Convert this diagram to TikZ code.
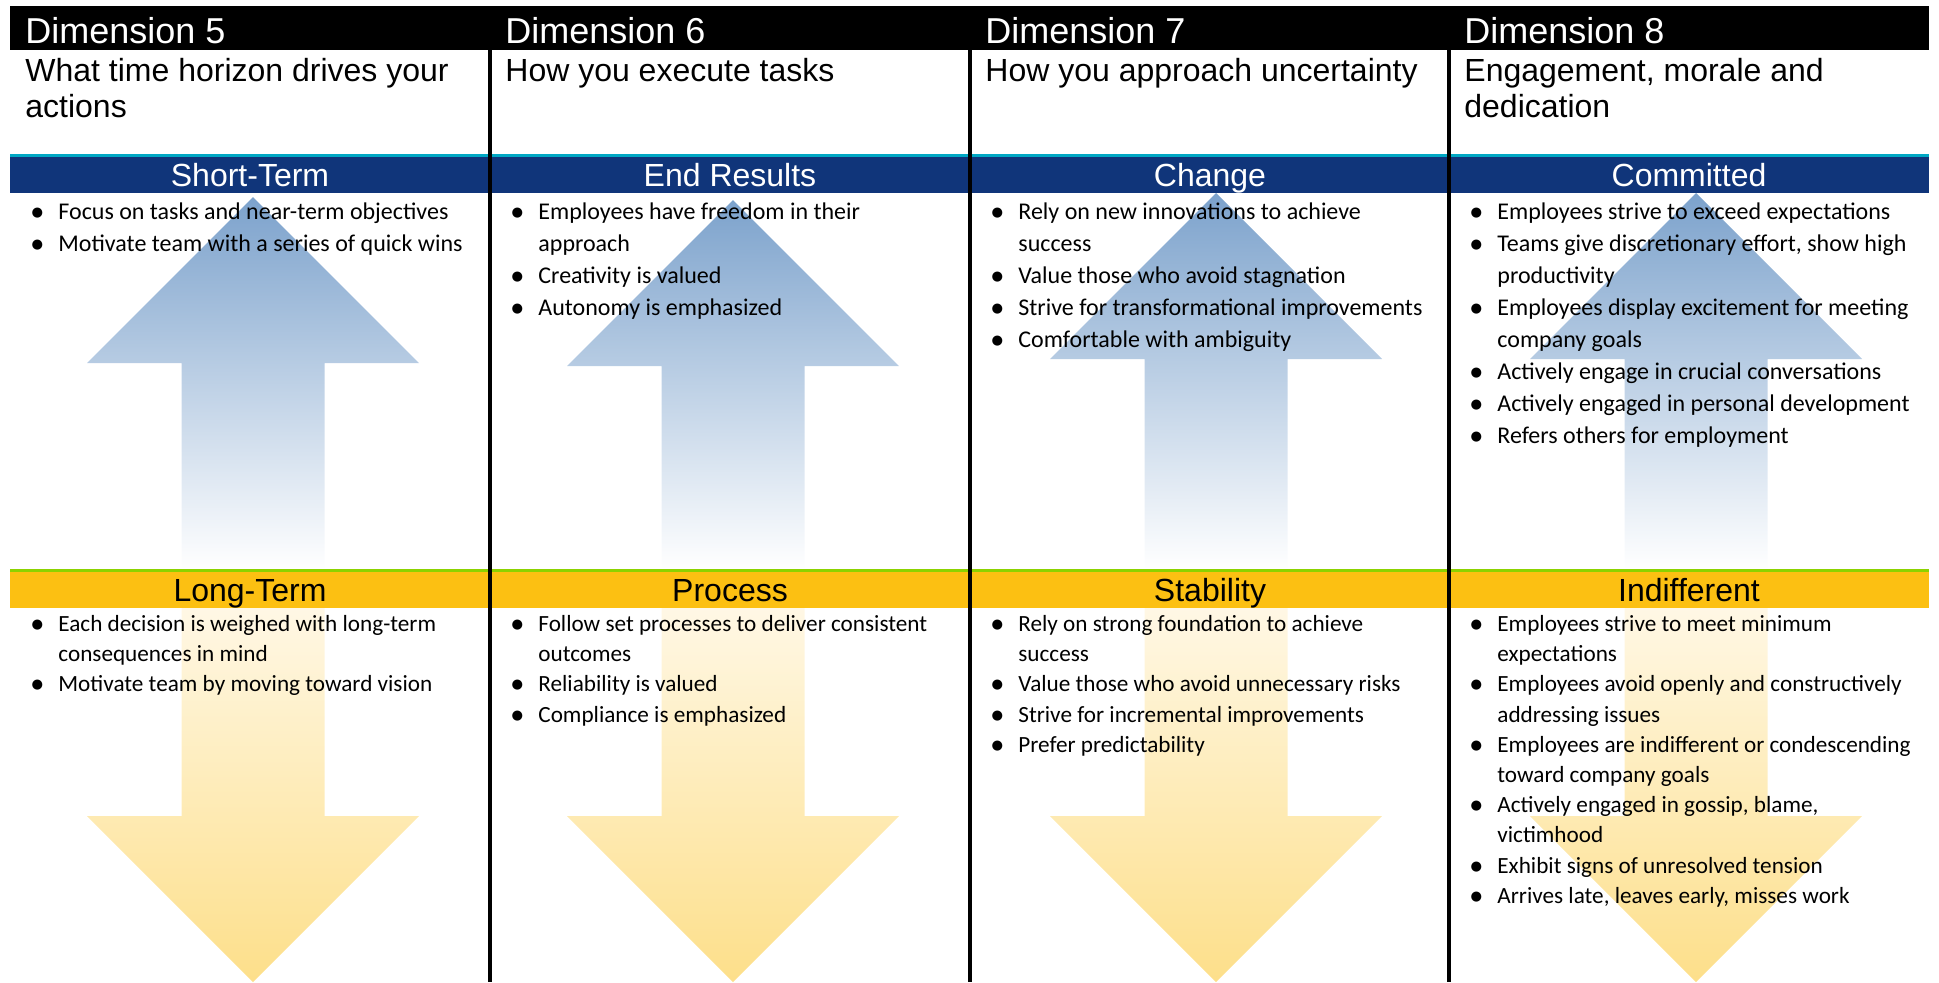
\documentclass[tikz,border=0pt]{standalone}
\usepackage{fontspec}
\setmainfont{Carlito}
\newfontfamily\headfont{Liberation Sans}
\newfontfamily\dotfont{DejaVu Sans}

\definecolor{bandblue}{RGB}{16,53,122}
\definecolor{bandteal}{RGB}{0,168,196}
\definecolor{bandgold}{RGB}{252,192,18}
\definecolor{bandgreen}{RGB}{140,210,0}
\definecolor{uptop}{RGB}{124,162,204}
\definecolor{downtop}{RGB}{255,250,238}
\definecolor{downbot}{RGB}{253,223,138}

% bullet line and continuation line
\newcommand{\bdot}{\raisebox{1.5pt}{\dotfont\fontsize{6.6}{6.6}\selectfont ●}}
\newcommand{\itm}{\makebox[24pt][l]{\hspace{13.5pt}\makebox[0pt]{\bdot}}\strut}
\newcommand{\cnt}{\makebox[24pt]{}\strut}

\begin{document}
\begin{tikzpicture}[x=0.5pt, y=-0.5pt,
    dimhead/.style={anchor=base west, inner sep=0pt, text=white,
        font=\headfont\fontsize{18}{21}\selectfont},
    question/.style={anchor=north west, inner sep=0pt, align=left,
        font=\headfont\fontsize{16}{18}\selectfont},
    uplabel/.style={anchor=base, inner sep=0pt, text=white,
        font=\headfont\fontsize{16}{18}\selectfont},
    downlabel/.style={uplabel, text=black},
    uplist/.style={anchor=north west, inner sep=0pt, align=left,
        font=\fontsize{12}{16}\selectfont},
    downlist/.style={uplist, font=\fontsize{11.6}{15.1}\selectfont},
    uparrow/.style={top color=uptop, bottom color=white},
    downarrow/.style={top color=downtop, bottom color=downbot},
    divider/.style={line width=2pt}
]
    \useasboundingbox (0,0) rectangle (1939,982);

    % big arrows behind the text
    \foreach \cx/\ty in {253/197, 733/200, 1216/193, 1696/193} {
        \shade[uparrow] (\cx,\ty) -- ({\cx+166},{\ty+166}) -- ({\cx+71.5},{\ty+166})
            -- ({\cx+71.5},569) -- ({\cx-71.5},569) -- ({\cx-71.5},{\ty+166})
            -- ({\cx-166},{\ty+166}) -- cycle;
        \shade[downarrow] ({\cx-71.5},571) -- ({\cx+71.5},571) -- ({\cx+71.5},816)
            -- ({\cx+166},816) -- (\cx,982) -- ({\cx-166},816) -- ({\cx-71.5},816) -- cycle;
    }

    % header bar and the two bands
    \fill (10,6) rectangle (1929,50);
    \fill[bandteal] (10,154) rectangle (1929,157);
    \fill[bandblue] (10,157) rectangle (1929,193);
    \fill[bandgreen] (10,569) rectangle (1929,572);
    \fill[bandgold] (10,572) rectangle (1929,608);

    % Dimension 5
    \node[dimhead] (dim5) at (25,43) {Dimension 5};
    \node[question] (q5) at (25,55.8) {\strut What time horizon drives your\\\strut actions};
    \node[uplabel] (short) at (250,186) {Short-Term};
    \node[downlabel] (long) at (250,601) {Long-Term};
    \node[uplist] (short list) at (10,196.6) {%
        \itm Focus on tasks and near-term objectives\\
        \itm Motivate team with a series of quick wins};
    \node[downlist] (long list) at (10,609.9) {%
        \itm Each decision is weighed with long-term\\
        \cnt consequences in mind\\
        \itm Motivate team by moving toward vision};

    % Dimension 6
    \node[dimhead] (dim6) at (505,43) {Dimension 6};
    \node[question] (q6) at (505,55.8) {\strut How you execute tasks};
    \node[uplabel] (results) at (730,186) {End Results};
    \node[downlabel] (process) at (730,601) {Process};
    \node[uplist] (results list) at (490,196.6) {%
        \itm Employees have freedom in their\\
        \cnt approach\\
        \itm Creativity is valued\\
        \itm Autonomy is emphasized};
    \node[downlist] (process list) at (490,609.9) {%
        \itm Follow set processes to deliver consistent\\
        \cnt outcomes\\
        \itm Reliability is valued\\
        \itm Compliance is emphasized};

    % Dimension 7
    \node[dimhead] (dim7) at (985,43) {Dimension 7};
    \node[question] (q7) at (985,55.8) {\strut How you approach uncertainty};
    \node[uplabel] (change) at (1210,186) {Change};
    \node[downlabel] (stability) at (1210,601) {Stability};
    \node[uplist] (change list) at (970,196.6) {%
        \itm Rely on new innovations to achieve\\
        \cnt success\\
        \itm Value those who avoid stagnation\\
        \itm Strive for transformational improvements\\
        \itm Comfortable with ambiguity};
    \node[downlist] (stability list) at (970,609.9) {%
        \itm Rely on strong foundation to achieve\\
        \cnt success\\
        \itm Value those who avoid unnecessary risks\\
        \itm Strive for incremental improvements\\
        \itm Prefer predictability};

    % Dimension 8
    \node[dimhead] (dim8) at (1464,43) {Dimension 8};
    \node[question] (q8) at (1464,55.8) {\strut Engagement, morale and\\\strut dedication};
    \node[uplabel] (committed) at (1689,186) {Committed};
    \node[downlabel] (indifferent) at (1689,601) {Indifferent};
    \node[uplist] (committed list) at (1449,196.6) {%
        \itm Employees strive to exceed expectations\\
        \itm Teams give discretionary effort, show high\\
        \cnt productivity\\
        \itm Employees display excitement for meeting\\
        \cnt company goals\\
        \itm Actively engage in crucial conversations\\
        \itm Actively engaged in personal development\\
        \itm Refers others for employment};
    \node[downlist] (indifferent list) at (1449,609.9) {%
        \itm Employees strive to meet minimum\\
        \cnt expectations\\
        \itm Employees avoid openly and constructively\\
        \cnt addressing issues\\
        \itm Employees are indifferent or condescending\\
        \cnt toward company goals\\
        \itm Actively engaged in gossip, blame,\\
        \cnt victimhood\\
        \itm Exhibit signs of unresolved tension\\
        \itm Arrives late, leaves early, misses work};

    % column dividers
    \foreach \x in {490,970,1449}
        \draw[divider] (\x,50) -- (\x,982);
\end{tikzpicture}
\end{document}
